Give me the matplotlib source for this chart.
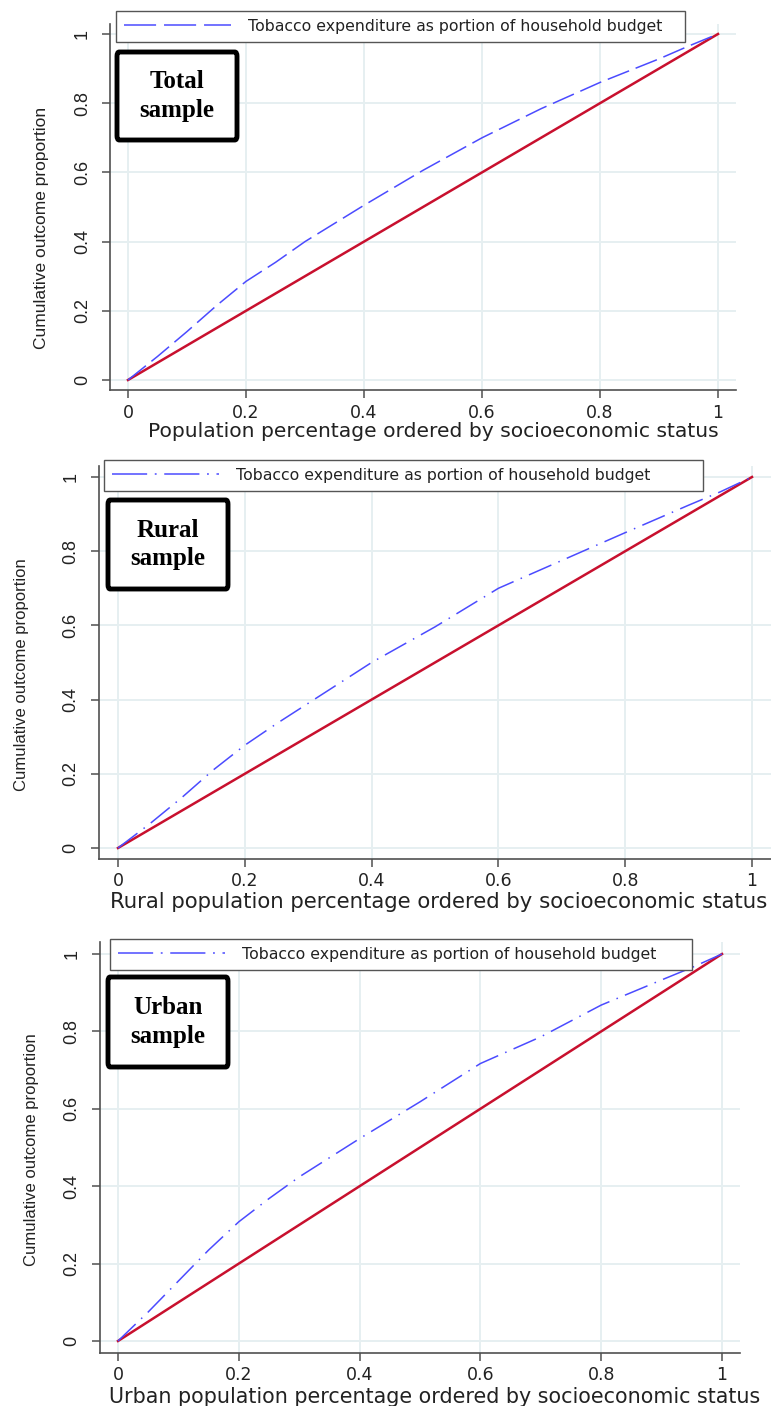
import numpy as np
import matplotlib.pyplot as plt
from matplotlib.patches import FancyBboxPatch
from matplotlib.lines import Line2D

# concentration curves
pop_share = [0, 0.05, 0.1, 0.15, 0.2, 0.25, 0.3, 0.4, 0.5, 0.6, 0.7, 0.8, 0.9, 0.95, 1.0]
total_curve = [0, 0.068, 0.14, 0.215, 0.285, 0.34, 0.40, 0.505, 0.606, 0.70, 0.784, 0.86, 0.928, 0.965, 1.0]
rural_curve = [0, 0.065, 0.135, 0.21, 0.277, 0.335, 0.39, 0.50, 0.596, 0.70, 0.775, 0.85, 0.924, 0.96, 1.0]
urban_curve = [0, 0.075, 0.155, 0.235, 0.308, 0.368, 0.424, 0.523, 0.618, 0.717, 0.786, 0.868, 0.933, 0.965, 1.0]
equality = [0, 1]

ticks = [0, 0.2, 0.4, 0.6, 0.8, 1.0]
tick_labels = ["0", "0.2", "0.4", "0.6", "0.8", "1"]
legend_text = "Tobacco expenditure as portion of household budget"
ylab = "Cumulative outcome proportion"

W, H = 771, 1406
fig = plt.figure(figsize=(W / 100, H / 100), dpi=100)
plt.rcParams['font.family'] = ['DejaVu Sans']

BLUE = '#4b4bff'
RED = '#c8102e'
GRID = '#e6eff1'
SPINE = '#505050'
TXT = '#222222'


def rect(x0, x1, y0, y1):
    # pixel positions of data 0 and 1 -> axes rect with limits -0.03..1.03
    sx = x1 - x0
    sy = y0 - y1
    left = x0 - 0.03 * sx
    bottom = y0 + 0.03 * sy
    return [left / W, 1 - bottom / H, 1.06 * sx / W, 1.06 * sy / H]


dash = (15, 4.6)
dash_leg = (21, 5.2)
dashdot = (16, 5, 1, 5)
dashdot_leg = (23, 5, 1.2, 5)

panels = [
    dict(curve=total_curve, rect=rect(128, 718, 380, 34), dashes=dash, leg_dashes=dash_leg,
         xlabel="Population percentage ordered by socioeconomic status",
         xlab_xy=(433, 431), xlab_fs=14.6, ylab_xy=(42, 228), ylab_fs=12.5,
         legend=(116, 11, 569), tag="Total\nsample", tag_box=(117, 52, 120, 88)),
    dict(curve=rural_curve, rect=rect(118, 752, 848, 477), dashes=dashdot, leg_dashes=dashdot_leg,
         xlabel="Rural population percentage ordered by socioeconomic status",
         xlab_xy=(439, 902), xlab_fs=15.3, ylab_xy=(22, 675), ylab_fs=12,
         legend=(104, 460, 599), tag="Rural\nsample", tag_box=(108, 500, 120, 89)),
    dict(curve=urban_curve, rect=rect(118, 722, 1341, 954), dashes=dashdot, leg_dashes=dashdot_leg,
         xlabel="Urban population percentage ordered by socioeconomic status",
         xlab_xy=(435, 1397), xlab_fs=14.9, ylab_xy=(32, 1150), ylab_fs=12,
         legend=(110, 939, 582), tag="Urban\nsample", tag_box=(108, 977, 120, 90)),
]

for p in panels:
    ax = fig.add_axes(p["rect"])
    ax.set_xlim(-0.03, 1.03)
    ax.set_ylim(-0.03, 1.03)
    ax.set_xticks(ticks)
    ax.set_yticks(ticks)
    ax.set_xticklabels(tick_labels, fontsize=12.5)
    ax.set_yticklabels(tick_labels, fontsize=13, rotation=90, va='center',
                       family='Liberation Sans')
    ax.grid(True, color=GRID, lw=1.4)
    ax.set_axisbelow(True)
    for s in ['top', 'right']:
        ax.spines[s].set_visible(False)
    for s in ['left', 'bottom']:
        ax.spines[s].set_color(SPINE)
        ax.spines[s].set_linewidth(1.2)
    ax.tick_params(color=SPINE, labelcolor=TXT, length=6, width=1.1)
    ax.tick_params(axis='y', pad=8)

    ax.plot(equality, equality, color=RED, lw=1.8, zorder=3)
    ax.plot(pop_share, p["curve"], color=BLUE, lw=1.1, dashes=p["dashes"], zorder=4)

    # axis labels
    fig.text(p["xlab_xy"][0] / W, 1 - p["xlab_xy"][1] / H, p["xlabel"],
             ha='center', va='center', fontsize=p["xlab_fs"], color=TXT)
    fig.text(p["ylab_xy"][0] / W, 1 - p["ylab_xy"][1] / H, ylab, rotation=90,
             ha='center', va='center', fontsize=p["ylab_fs"], color=TXT,
             family='Liberation Sans')

    # legend above the plot
    lx, ly, lw_ = p["legend"]
    handle = Line2D([], [], color=BLUE, lw=1.1, dashes=p["leg_dashes"])
    leg = ax.legend([handle], [legend_text], loc='upper left',
                    bbox_to_anchor=(lx / W, 1 - ly / H - 32 / H, lw_ / W, 32 / H),
                    bbox_transform=fig.transFigure, mode='expand',
                    fontsize=11.3, handlelength=6.8, handletextpad=1.1,
                    borderpad=0.5, borderaxespad=0,
                    fancybox=False, framealpha=1, edgecolor='#555555')
    leg.get_frame().set_linewidth(1.0)
    for t in leg.get_texts():
        t.set_color(TXT)

    # sample tag box
    bx, by, bw, bh = p["tag_box"]
    box = FancyBboxPatch((bx / W, 1 - (by + bh) / H), bw / W, bh / H,
                         boxstyle="round,pad=0,rounding_size=0.003",
                         transform=fig.transFigure, fc='white', ec='black',
                         lw=3.5, zorder=10)
    fig.add_artist(box)
    fig.text((bx + bw / 2) / W, 1 - (by + bh / 2) / H, p["tag"], ha='center',
             va='center', fontsize=18, fontweight='bold', family='Liberation Serif',
             linespacing=1.3, zorder=11)

fig.savefig("out.png", dpi=100)
